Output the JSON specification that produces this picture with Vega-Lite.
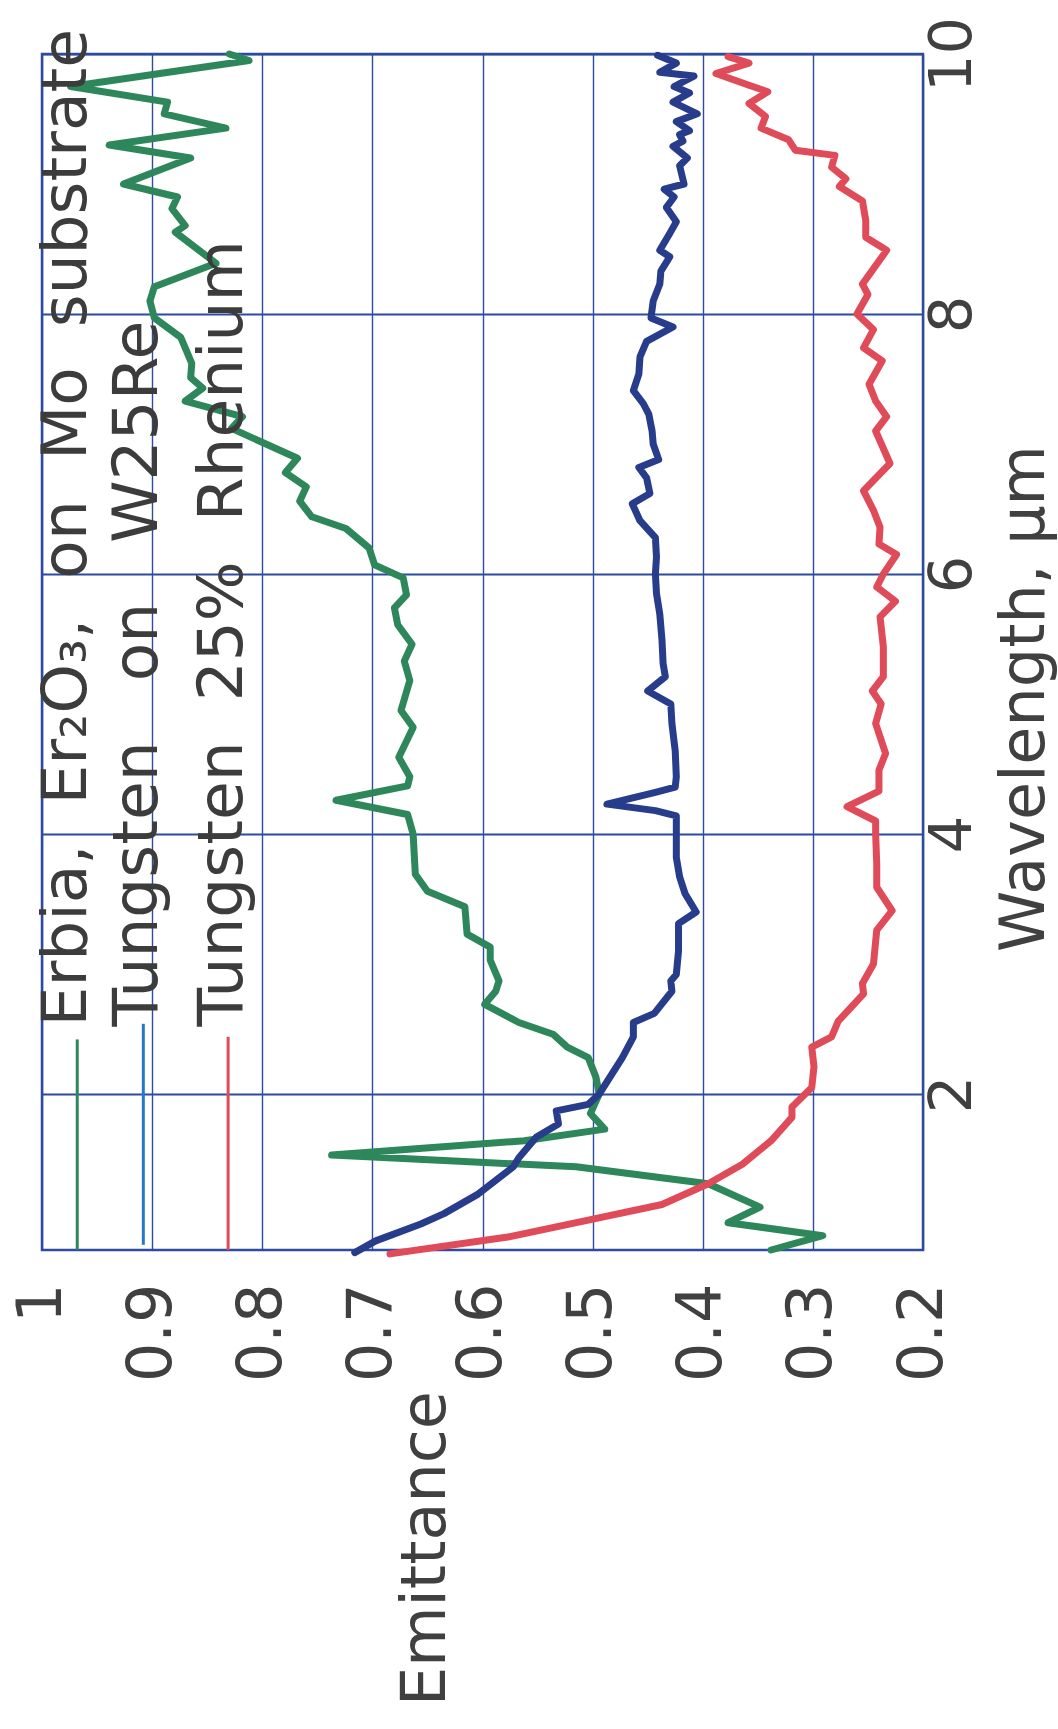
{
  "$schema": "https://vega.github.io/schema/vega-lite/v6.json",
  "width": 881,
  "height": 1196,
  "autosize": {"type": "none"},
  "padding": {"left": 42, "top": 54, "right": 135, "bottom": 479},
  "background": "#ffffff",
  "config": {
    "font": "DejaVu Sans",
    "view": {"stroke": "#2d4ba0", "strokeWidth": 2.5}
  },
  "datasets": {
    "curves": [
      {"series": "Erbia", "wavelength": 0.80, "emittance": 0.338},
      {"series": "Erbia", "wavelength": 0.91, "emittance": 0.291},
      {"series": "Erbia", "wavelength": 1.01, "emittance": 0.377},
      {"series": "Erbia", "wavelength": 1.13, "emittance": 0.348},
      {"series": "Erbia", "wavelength": 1.31, "emittance": 0.395},
      {"series": "Erbia", "wavelength": 1.44, "emittance": 0.515},
      {"series": "Erbia", "wavelength": 1.53, "emittance": 0.737},
      {"series": "Erbia", "wavelength": 1.64, "emittance": 0.562},
      {"series": "Erbia", "wavelength": 1.73, "emittance": 0.489},
      {"series": "Erbia", "wavelength": 1.85, "emittance": 0.502},
      {"series": "Erbia", "wavelength": 2.00, "emittance": 0.494},
      {"series": "Erbia", "wavelength": 2.13, "emittance": 0.497},
      {"series": "Erbia", "wavelength": 2.28, "emittance": 0.504},
      {"series": "Erbia", "wavelength": 2.36, "emittance": 0.523},
      {"series": "Erbia", "wavelength": 2.46, "emittance": 0.536},
      {"series": "Erbia", "wavelength": 2.55, "emittance": 0.567},
      {"series": "Erbia", "wavelength": 2.69, "emittance": 0.598},
      {"series": "Erbia", "wavelength": 2.79, "emittance": 0.588},
      {"series": "Erbia", "wavelength": 2.87, "emittance": 0.585},
      {"series": "Erbia", "wavelength": 3.03, "emittance": 0.593},
      {"series": "Erbia", "wavelength": 3.13, "emittance": 0.593},
      {"series": "Erbia", "wavelength": 3.23, "emittance": 0.614},
      {"series": "Erbia", "wavelength": 3.44, "emittance": 0.616},
      {"series": "Erbia", "wavelength": 3.56, "emittance": 0.650},
      {"series": "Erbia", "wavelength": 3.69, "emittance": 0.661},
      {"series": "Erbia", "wavelength": 4.00, "emittance": 0.663},
      {"series": "Erbia", "wavelength": 4.15, "emittance": 0.668},
      {"series": "Erbia", "wavelength": 4.26, "emittance": 0.733},
      {"series": "Erbia", "wavelength": 4.37, "emittance": 0.668},
      {"series": "Erbia", "wavelength": 4.44, "emittance": 0.666},
      {"series": "Erbia", "wavelength": 4.59, "emittance": 0.676},
      {"series": "Erbia", "wavelength": 4.82, "emittance": 0.663},
      {"series": "Erbia", "wavelength": 4.95, "emittance": 0.674},
      {"series": "Erbia", "wavelength": 5.18, "emittance": 0.666},
      {"series": "Erbia", "wavelength": 5.33, "emittance": 0.671},
      {"series": "Erbia", "wavelength": 5.46, "emittance": 0.664},
      {"series": "Erbia", "wavelength": 5.61, "emittance": 0.677},
      {"series": "Erbia", "wavelength": 5.74, "emittance": 0.680},
      {"series": "Erbia", "wavelength": 5.84, "emittance": 0.669},
      {"series": "Erbia", "wavelength": 5.97, "emittance": 0.672},
      {"series": "Erbia", "wavelength": 6.07, "emittance": 0.698},
      {"series": "Erbia", "wavelength": 6.20, "emittance": 0.703},
      {"series": "Erbia", "wavelength": 6.35, "emittance": 0.724},
      {"series": "Erbia", "wavelength": 6.44, "emittance": 0.755},
      {"series": "Erbia", "wavelength": 6.56, "emittance": 0.766},
      {"series": "Erbia", "wavelength": 6.67, "emittance": 0.760},
      {"series": "Erbia", "wavelength": 6.78, "emittance": 0.779},
      {"series": "Erbia", "wavelength": 6.89, "emittance": 0.768},
      {"series": "Erbia", "wavelength": 7.12, "emittance": 0.828},
      {"series": "Erbia", "wavelength": 7.21, "emittance": 0.818},
      {"series": "Erbia", "wavelength": 7.33, "emittance": 0.870},
      {"series": "Erbia", "wavelength": 7.43, "emittance": 0.854},
      {"series": "Erbia", "wavelength": 7.51, "emittance": 0.865},
      {"series": "Erbia", "wavelength": 7.62, "emittance": 0.864},
      {"series": "Erbia", "wavelength": 7.82, "emittance": 0.874},
      {"series": "Erbia", "wavelength": 7.97, "emittance": 0.898},
      {"series": "Erbia", "wavelength": 8.10, "emittance": 0.902},
      {"series": "Erbia", "wavelength": 8.21, "emittance": 0.898},
      {"series": "Erbia", "wavelength": 8.39, "emittance": 0.842},
      {"series": "Erbia", "wavelength": 8.63, "emittance": 0.879},
      {"series": "Erbia", "wavelength": 8.68, "emittance": 0.870},
      {"series": "Erbia", "wavelength": 8.81, "emittance": 0.882},
      {"series": "Erbia", "wavelength": 8.90, "emittance": 0.877},
      {"series": "Erbia", "wavelength": 9.00, "emittance": 0.926},
      {"series": "Erbia", "wavelength": 9.20, "emittance": 0.865},
      {"series": "Erbia", "wavelength": 9.30, "emittance": 0.939},
      {"series": "Erbia", "wavelength": 9.43, "emittance": 0.833},
      {"series": "Erbia", "wavelength": 9.54, "emittance": 0.889},
      {"series": "Erbia", "wavelength": 9.63, "emittance": 0.886},
      {"series": "Erbia", "wavelength": 9.75, "emittance": 0.974},
      {"series": "Erbia", "wavelength": 9.95, "emittance": 0.812},
      {"series": "Erbia", "wavelength": 10.00, "emittance": 0.830},
      {"series": "Tungsten on W25Re", "wavelength": 0.78, "emittance": 0.716},
      {"series": "Tungsten on W25Re", "wavelength": 0.87, "emittance": 0.697},
      {"series": "Tungsten on W25Re", "wavelength": 1.00, "emittance": 0.656},
      {"series": "Tungsten on W25Re", "wavelength": 1.08, "emittance": 0.635},
      {"series": "Tungsten on W25Re", "wavelength": 1.23, "emittance": 0.604},
      {"series": "Tungsten on W25Re", "wavelength": 1.44, "emittance": 0.572},
      {"series": "Tungsten on W25Re", "wavelength": 1.51, "emittance": 0.567},
      {"series": "Tungsten on W25Re", "wavelength": 1.67, "emittance": 0.551},
      {"series": "Tungsten on W25Re", "wavelength": 1.77, "emittance": 0.531},
      {"series": "Tungsten on W25Re", "wavelength": 1.87, "emittance": 0.533},
      {"series": "Tungsten on W25Re", "wavelength": 1.92, "emittance": 0.504},
      {"series": "Tungsten on W25Re", "wavelength": 2.00, "emittance": 0.494},
      {"series": "Tungsten on W25Re", "wavelength": 2.28, "emittance": 0.473},
      {"series": "Tungsten on W25Re", "wavelength": 2.44, "emittance": 0.463},
      {"series": "Tungsten on W25Re", "wavelength": 2.55, "emittance": 0.463},
      {"series": "Tungsten on W25Re", "wavelength": 2.62, "emittance": 0.444},
      {"series": "Tungsten on W25Re", "wavelength": 2.79, "emittance": 0.428},
      {"series": "Tungsten on W25Re", "wavelength": 2.87, "emittance": 0.429},
      {"series": "Tungsten on W25Re", "wavelength": 2.92, "emittance": 0.424},
      {"series": "Tungsten on W25Re", "wavelength": 3.10, "emittance": 0.422},
      {"series": "Tungsten on W25Re", "wavelength": 3.31, "emittance": 0.422},
      {"series": "Tungsten on W25Re", "wavelength": 3.40, "emittance": 0.406},
      {"series": "Tungsten on W25Re", "wavelength": 3.54, "emittance": 0.416},
      {"series": "Tungsten on W25Re", "wavelength": 3.67, "emittance": 0.421},
      {"series": "Tungsten on W25Re", "wavelength": 3.82, "emittance": 0.424},
      {"series": "Tungsten on W25Re", "wavelength": 4.00, "emittance": 0.424},
      {"series": "Tungsten on W25Re", "wavelength": 4.14, "emittance": 0.424},
      {"series": "Tungsten on W25Re", "wavelength": 4.18, "emittance": 0.443},
      {"series": "Tungsten on W25Re", "wavelength": 4.23, "emittance": 0.487},
      {"series": "Tungsten on W25Re", "wavelength": 4.32, "emittance": 0.443},
      {"series": "Tungsten on W25Re", "wavelength": 4.36, "emittance": 0.425},
      {"series": "Tungsten on W25Re", "wavelength": 4.44, "emittance": 0.424},
      {"series": "Tungsten on W25Re", "wavelength": 4.64, "emittance": 0.425},
      {"series": "Tungsten on W25Re", "wavelength": 4.85, "emittance": 0.428},
      {"series": "Tungsten on W25Re", "wavelength": 5.00, "emittance": 0.429},
      {"series": "Tungsten on W25Re", "wavelength": 5.10, "emittance": 0.450},
      {"series": "Tungsten on W25Re", "wavelength": 5.21, "emittance": 0.434},
      {"series": "Tungsten on W25Re", "wavelength": 5.31, "emittance": 0.436},
      {"series": "Tungsten on W25Re", "wavelength": 5.49, "emittance": 0.437},
      {"series": "Tungsten on W25Re", "wavelength": 5.69, "emittance": 0.439},
      {"series": "Tungsten on W25Re", "wavelength": 5.85, "emittance": 0.442},
      {"series": "Tungsten on W25Re", "wavelength": 6.00, "emittance": 0.443},
      {"series": "Tungsten on W25Re", "wavelength": 6.13, "emittance": 0.442},
      {"series": "Tungsten on W25Re", "wavelength": 6.28, "emittance": 0.443},
      {"series": "Tungsten on W25Re", "wavelength": 6.41, "emittance": 0.457},
      {"series": "Tungsten on W25Re", "wavelength": 6.54, "emittance": 0.464},
      {"series": "Tungsten on W25Re", "wavelength": 6.62, "emittance": 0.448},
      {"series": "Tungsten on W25Re", "wavelength": 6.74, "emittance": 0.451},
      {"series": "Tungsten on W25Re", "wavelength": 6.82, "emittance": 0.458},
      {"series": "Tungsten on W25Re", "wavelength": 6.88, "emittance": 0.440},
      {"series": "Tungsten on W25Re", "wavelength": 7.00, "emittance": 0.445},
      {"series": "Tungsten on W25Re", "wavelength": 7.10, "emittance": 0.446},
      {"series": "Tungsten on W25Re", "wavelength": 7.23, "emittance": 0.449},
      {"series": "Tungsten on W25Re", "wavelength": 7.31, "emittance": 0.454},
      {"series": "Tungsten on W25Re", "wavelength": 7.41, "emittance": 0.463},
      {"series": "Tungsten on W25Re", "wavelength": 7.54, "emittance": 0.458},
      {"series": "Tungsten on W25Re", "wavelength": 7.67, "emittance": 0.457},
      {"series": "Tungsten on W25Re", "wavelength": 7.79, "emittance": 0.451},
      {"series": "Tungsten on W25Re", "wavelength": 7.90, "emittance": 0.427},
      {"series": "Tungsten on W25Re", "wavelength": 7.97, "emittance": 0.447},
      {"series": "Tungsten on W25Re", "wavelength": 8.10, "emittance": 0.445},
      {"series": "Tungsten on W25Re", "wavelength": 8.23, "emittance": 0.439},
      {"series": "Tungsten on W25Re", "wavelength": 8.33, "emittance": 0.438},
      {"series": "Tungsten on W25Re", "wavelength": 8.44, "emittance": 0.430},
      {"series": "Tungsten on W25Re", "wavelength": 8.49, "emittance": 0.439},
      {"series": "Tungsten on W25Re", "wavelength": 8.62, "emittance": 0.430},
      {"series": "Tungsten on W25Re", "wavelength": 8.71, "emittance": 0.424},
      {"series": "Tungsten on W25Re", "wavelength": 8.82, "emittance": 0.433},
      {"series": "Tungsten on W25Re", "wavelength": 8.90, "emittance": 0.426},
      {"series": "Tungsten on W25Re", "wavelength": 8.96, "emittance": 0.435},
      {"series": "Tungsten on W25Re", "wavelength": 9.00, "emittance": 0.417},
      {"series": "Tungsten on W25Re", "wavelength": 9.14, "emittance": 0.421},
      {"series": "Tungsten on W25Re", "wavelength": 9.20, "emittance": 0.414},
      {"series": "Tungsten on W25Re", "wavelength": 9.29, "emittance": 0.427},
      {"series": "Tungsten on W25Re", "wavelength": 9.33, "emittance": 0.418},
      {"series": "Tungsten on W25Re", "wavelength": 9.38, "emittance": 0.421},
      {"series": "Tungsten on W25Re", "wavelength": 9.41, "emittance": 0.412},
      {"series": "Tungsten on W25Re", "wavelength": 9.48, "emittance": 0.424},
      {"series": "Tungsten on W25Re", "wavelength": 9.54, "emittance": 0.405},
      {"series": "Tungsten on W25Re", "wavelength": 9.63, "emittance": 0.427},
      {"series": "Tungsten on W25Re", "wavelength": 9.70, "emittance": 0.412},
      {"series": "Tungsten on W25Re", "wavelength": 9.75, "emittance": 0.426},
      {"series": "Tungsten on W25Re", "wavelength": 9.83, "emittance": 0.408},
      {"series": "Tungsten on W25Re", "wavelength": 9.86, "emittance": 0.439},
      {"series": "Tungsten on W25Re", "wavelength": 9.93, "emittance": 0.424},
      {"series": "Tungsten on W25Re", "wavelength": 9.99, "emittance": 0.441},
      {"series": "Tungsten 25% Rhenium", "wavelength": 0.77, "emittance": 0.684},
      {"series": "Tungsten 25% Rhenium", "wavelength": 0.90, "emittance": 0.577},
      {"series": "Tungsten 25% Rhenium", "wavelength": 1.03, "emittance": 0.504},
      {"series": "Tungsten 25% Rhenium", "wavelength": 1.15, "emittance": 0.437},
      {"series": "Tungsten 25% Rhenium", "wavelength": 1.31, "emittance": 0.395},
      {"series": "Tungsten 25% Rhenium", "wavelength": 1.46, "emittance": 0.364},
      {"series": "Tungsten 25% Rhenium", "wavelength": 1.64, "emittance": 0.338},
      {"series": "Tungsten 25% Rhenium", "wavelength": 1.82, "emittance": 0.319},
      {"series": "Tungsten 25% Rhenium", "wavelength": 1.90, "emittance": 0.319},
      {"series": "Tungsten 25% Rhenium", "wavelength": 2.05, "emittance": 0.301},
      {"series": "Tungsten 25% Rhenium", "wavelength": 2.21, "emittance": 0.299},
      {"series": "Tungsten 25% Rhenium", "wavelength": 2.36, "emittance": 0.301},
      {"series": "Tungsten 25% Rhenium", "wavelength": 2.44, "emittance": 0.283},
      {"series": "Tungsten 25% Rhenium", "wavelength": 2.56, "emittance": 0.277},
      {"series": "Tungsten 25% Rhenium", "wavelength": 2.77, "emittance": 0.254},
      {"series": "Tungsten 25% Rhenium", "wavelength": 2.85, "emittance": 0.255},
      {"series": "Tungsten 25% Rhenium", "wavelength": 3.00, "emittance": 0.245},
      {"series": "Tungsten 25% Rhenium", "wavelength": 3.26, "emittance": 0.242},
      {"series": "Tungsten 25% Rhenium", "wavelength": 3.41, "emittance": 0.228},
      {"series": "Tungsten 25% Rhenium", "wavelength": 3.59, "emittance": 0.242},
      {"series": "Tungsten 25% Rhenium", "wavelength": 3.77, "emittance": 0.242},
      {"series": "Tungsten 25% Rhenium", "wavelength": 4.00, "emittance": 0.243},
      {"series": "Tungsten 25% Rhenium", "wavelength": 4.10, "emittance": 0.243},
      {"series": "Tungsten 25% Rhenium", "wavelength": 4.21, "emittance": 0.269},
      {"series": "Tungsten 25% Rhenium", "wavelength": 4.33, "emittance": 0.240},
      {"series": "Tungsten 25% Rhenium", "wavelength": 4.49, "emittance": 0.240},
      {"series": "Tungsten 25% Rhenium", "wavelength": 4.62, "emittance": 0.234},
      {"series": "Tungsten 25% Rhenium", "wavelength": 4.85, "emittance": 0.243},
      {"series": "Tungsten 25% Rhenium", "wavelength": 5.00, "emittance": 0.238},
      {"series": "Tungsten 25% Rhenium", "wavelength": 5.10, "emittance": 0.246},
      {"series": "Tungsten 25% Rhenium", "wavelength": 5.21, "emittance": 0.236},
      {"series": "Tungsten 25% Rhenium", "wavelength": 5.44, "emittance": 0.236},
      {"series": "Tungsten 25% Rhenium", "wavelength": 5.67, "emittance": 0.239},
      {"series": "Tungsten 25% Rhenium", "wavelength": 5.79, "emittance": 0.225},
      {"series": "Tungsten 25% Rhenium", "wavelength": 5.90, "emittance": 0.242},
      {"series": "Tungsten 25% Rhenium", "wavelength": 6.00, "emittance": 0.236},
      {"series": "Tungsten 25% Rhenium", "wavelength": 6.15, "emittance": 0.224},
      {"series": "Tungsten 25% Rhenium", "wavelength": 6.23, "emittance": 0.240},
      {"series": "Tungsten 25% Rhenium", "wavelength": 6.36, "emittance": 0.239},
      {"series": "Tungsten 25% Rhenium", "wavelength": 6.49, "emittance": 0.245},
      {"series": "Tungsten 25% Rhenium", "wavelength": 6.64, "emittance": 0.254},
      {"series": "Tungsten 25% Rhenium", "wavelength": 6.85, "emittance": 0.230},
      {"series": "Tungsten 25% Rhenium", "wavelength": 7.10, "emittance": 0.243},
      {"series": "Tungsten 25% Rhenium", "wavelength": 7.21, "emittance": 0.233},
      {"series": "Tungsten 25% Rhenium", "wavelength": 7.33, "emittance": 0.243},
      {"series": "Tungsten 25% Rhenium", "wavelength": 7.46, "emittance": 0.249},
      {"series": "Tungsten 25% Rhenium", "wavelength": 7.64, "emittance": 0.237},
      {"series": "Tungsten 25% Rhenium", "wavelength": 7.74, "emittance": 0.254},
      {"series": "Tungsten 25% Rhenium", "wavelength": 7.88, "emittance": 0.245},
      {"series": "Tungsten 25% Rhenium", "wavelength": 8.00, "emittance": 0.260},
      {"series": "Tungsten 25% Rhenium", "wavelength": 8.15, "emittance": 0.250},
      {"series": "Tungsten 25% Rhenium", "wavelength": 8.23, "emittance": 0.255},
      {"series": "Tungsten 25% Rhenium", "wavelength": 8.49, "emittance": 0.233},
      {"series": "Tungsten 25% Rhenium", "wavelength": 8.59, "emittance": 0.252},
      {"series": "Tungsten 25% Rhenium", "wavelength": 8.72, "emittance": 0.252},
      {"series": "Tungsten 25% Rhenium", "wavelength": 8.87, "emittance": 0.255},
      {"series": "Tungsten 25% Rhenium", "wavelength": 8.98, "emittance": 0.276},
      {"series": "Tungsten 25% Rhenium", "wavelength": 9.04, "emittance": 0.270},
      {"series": "Tungsten 25% Rhenium", "wavelength": 9.13, "emittance": 0.283},
      {"series": "Tungsten 25% Rhenium", "wavelength": 9.22, "emittance": 0.280},
      {"series": "Tungsten 25% Rhenium", "wavelength": 9.26, "emittance": 0.316},
      {"series": "Tungsten 25% Rhenium", "wavelength": 9.34, "emittance": 0.322},
      {"series": "Tungsten 25% Rhenium", "wavelength": 9.43, "emittance": 0.347},
      {"series": "Tungsten 25% Rhenium", "wavelength": 9.52, "emittance": 0.343},
      {"series": "Tungsten 25% Rhenium", "wavelength": 9.62, "emittance": 0.358},
      {"series": "Tungsten 25% Rhenium", "wavelength": 9.71, "emittance": 0.341},
      {"series": "Tungsten 25% Rhenium", "wavelength": 9.76, "emittance": 0.358},
      {"series": "Tungsten 25% Rhenium", "wavelength": 9.85, "emittance": 0.388},
      {"series": "Tungsten 25% Rhenium", "wavelength": 9.93, "emittance": 0.358},
      {"series": "Tungsten 25% Rhenium", "wavelength": 9.98, "emittance": 0.377}
    ]
  },
  "layer": [
    {
      "data": {"name": "curves"},
      "mark": {"type": "line", "strokeWidth": 7, "strokeJoin": "round", "strokeCap": "round"},
      "encoding": {
        "x": {
          "field": "emittance",
          "type": "quantitative",
          "scale": {"domain": [0.2, 1], "reverse": true, "nice": false, "zero": false},
          "axis": {
            "orient": "bottom",
            "values": [0.2, 0.3, 0.4, 0.5, 0.6, 0.7, 0.8, 0.9, 1],
            "labelExpr": "datum.value == 1 ? '1' : format(datum.value, '.1f')",
            "grid": true,
            "gridColor": "#2d4ba0",
            "gridWidth": 1.4,
            "gridOpacity": 1,
            "ticks": false,
            "domain": false,
            "labelAngle": -90,
            "labelAlign": "right",
            "labelBaseline": "middle",
            "labelFontSize": 62,
            "labelColor": "#404040",
            "labelPadding": 33,
            "labelOffset": -1,
            "labelFlush": false,
            "labelOverlap": false,
            "title": "Emittance",
            "titleFontSize": 62,
            "titleFontWeight": "normal",
            "titleColor": "#404040",
            "titleAngle": -90,
            "titleAlign": "center",
            "titleBaseline": "middle",
            "titleX": 383,
            "titleY": 298
          }
        },
        "y": {
          "field": "wavelength",
          "type": "quantitative",
          "scale": {"domain": [0.8, 10], "nice": false, "zero": false},
          "axis": {
            "orient": "right",
            "values": [2, 4, 6, 8, 10],
            "format": "d",
            "grid": true,
            "gridColor": "#2d4ba0",
            "gridWidth": 2.2,
            "gridOpacity": 1,
            "ticks": false,
            "domain": false,
            "labelAngle": -90,
            "labelAlign": "center",
            "labelBaseline": "top",
            "labelFontSize": 59,
            "labelColor": "#404040",
            "labelPadding": 0,
            "labelFlush": false,
            "labelOverlap": false,
            "title": "Wavelength,  µm",
            "titleFontSize": 62,
            "titleFontWeight": "normal",
            "titleColor": "#404040",
            "titleAngle": -90,
            "titleAlign": "center",
            "titleBaseline": "middle",
            "titleX": 101,
            "titleY": 644
          }
        },
        "color": {
          "field": "series",
          "type": "nominal",
          "scale": {
            "domain": ["Erbia", "Tungsten on W25Re", "Tungsten 25% Rhenium"],
            "range": ["#2e875a", "#283c8c", "#e04b5a"]
          },
          "legend": null
        },
        "order": {"field": "wavelength", "type": "quantitative"}
      }
    },
    {
      "data": {"values": [{}]},
      "mark": {"type": "rule", "color": "#2e875a", "strokeWidth": 3},
      "encoding": {"x": {"datum": 0.968}, "y": {"datum": 0.8}, "y2": {"datum": 2.42}}
    },
    {
      "data": {"values": [{}]},
      "mark": {"type": "rule", "color": "#2878c8", "strokeWidth": 3},
      "encoding": {"x": {"datum": 0.908}, "y": {"datum": 0.84}, "y2": {"datum": 2.54}}
    },
    {
      "data": {"values": [{}]},
      "mark": {"type": "rule", "color": "#e04b5a", "strokeWidth": 3},
      "encoding": {"x": {"datum": 0.831}, "y": {"datum": 0.8}, "y2": {"datum": 2.44}}
    },
    {
      "data": {"values": [{}]},
      "mark": {"type": "text", "angle": -90, "align": "left", "baseline": "alphabetic", "fontSize": 63, "color": "#3c3c3c"},
      "encoding": {"x": {"datum": 0.960}, "y": {"datum": 2.52}, "text": {"value": "Erbia,\u00a0 Er\u2082O\u2083,\u00a0 on\u00a0 Mo\u00a0 substrate"}}
    },
    {
      "data": {"values": [{}]},
      "mark": {"type": "text", "angle": -90, "align": "left", "baseline": "alphabetic", "fontSize": 63, "color": "#3c3c3c"},
      "encoding": {"x": {"datum": 0.896}, "y": {"datum": 2.52}, "text": {"value": "Tungsten\u00a0\u00a0 on\u00a0\u00a0 W25Re"}}
    },
    {
      "data": {"values": [{}]},
      "mark": {"type": "text", "angle": -90, "align": "left", "baseline": "alphabetic", "fontSize": 63, "color": "#3c3c3c"},
      "encoding": {"x": {"datum": 0.818}, "y": {"datum": 2.52}, "text": {"value": "Tungsten\u00a0 25%\u00a0 Rhenium"}}
    }
  ]
}
